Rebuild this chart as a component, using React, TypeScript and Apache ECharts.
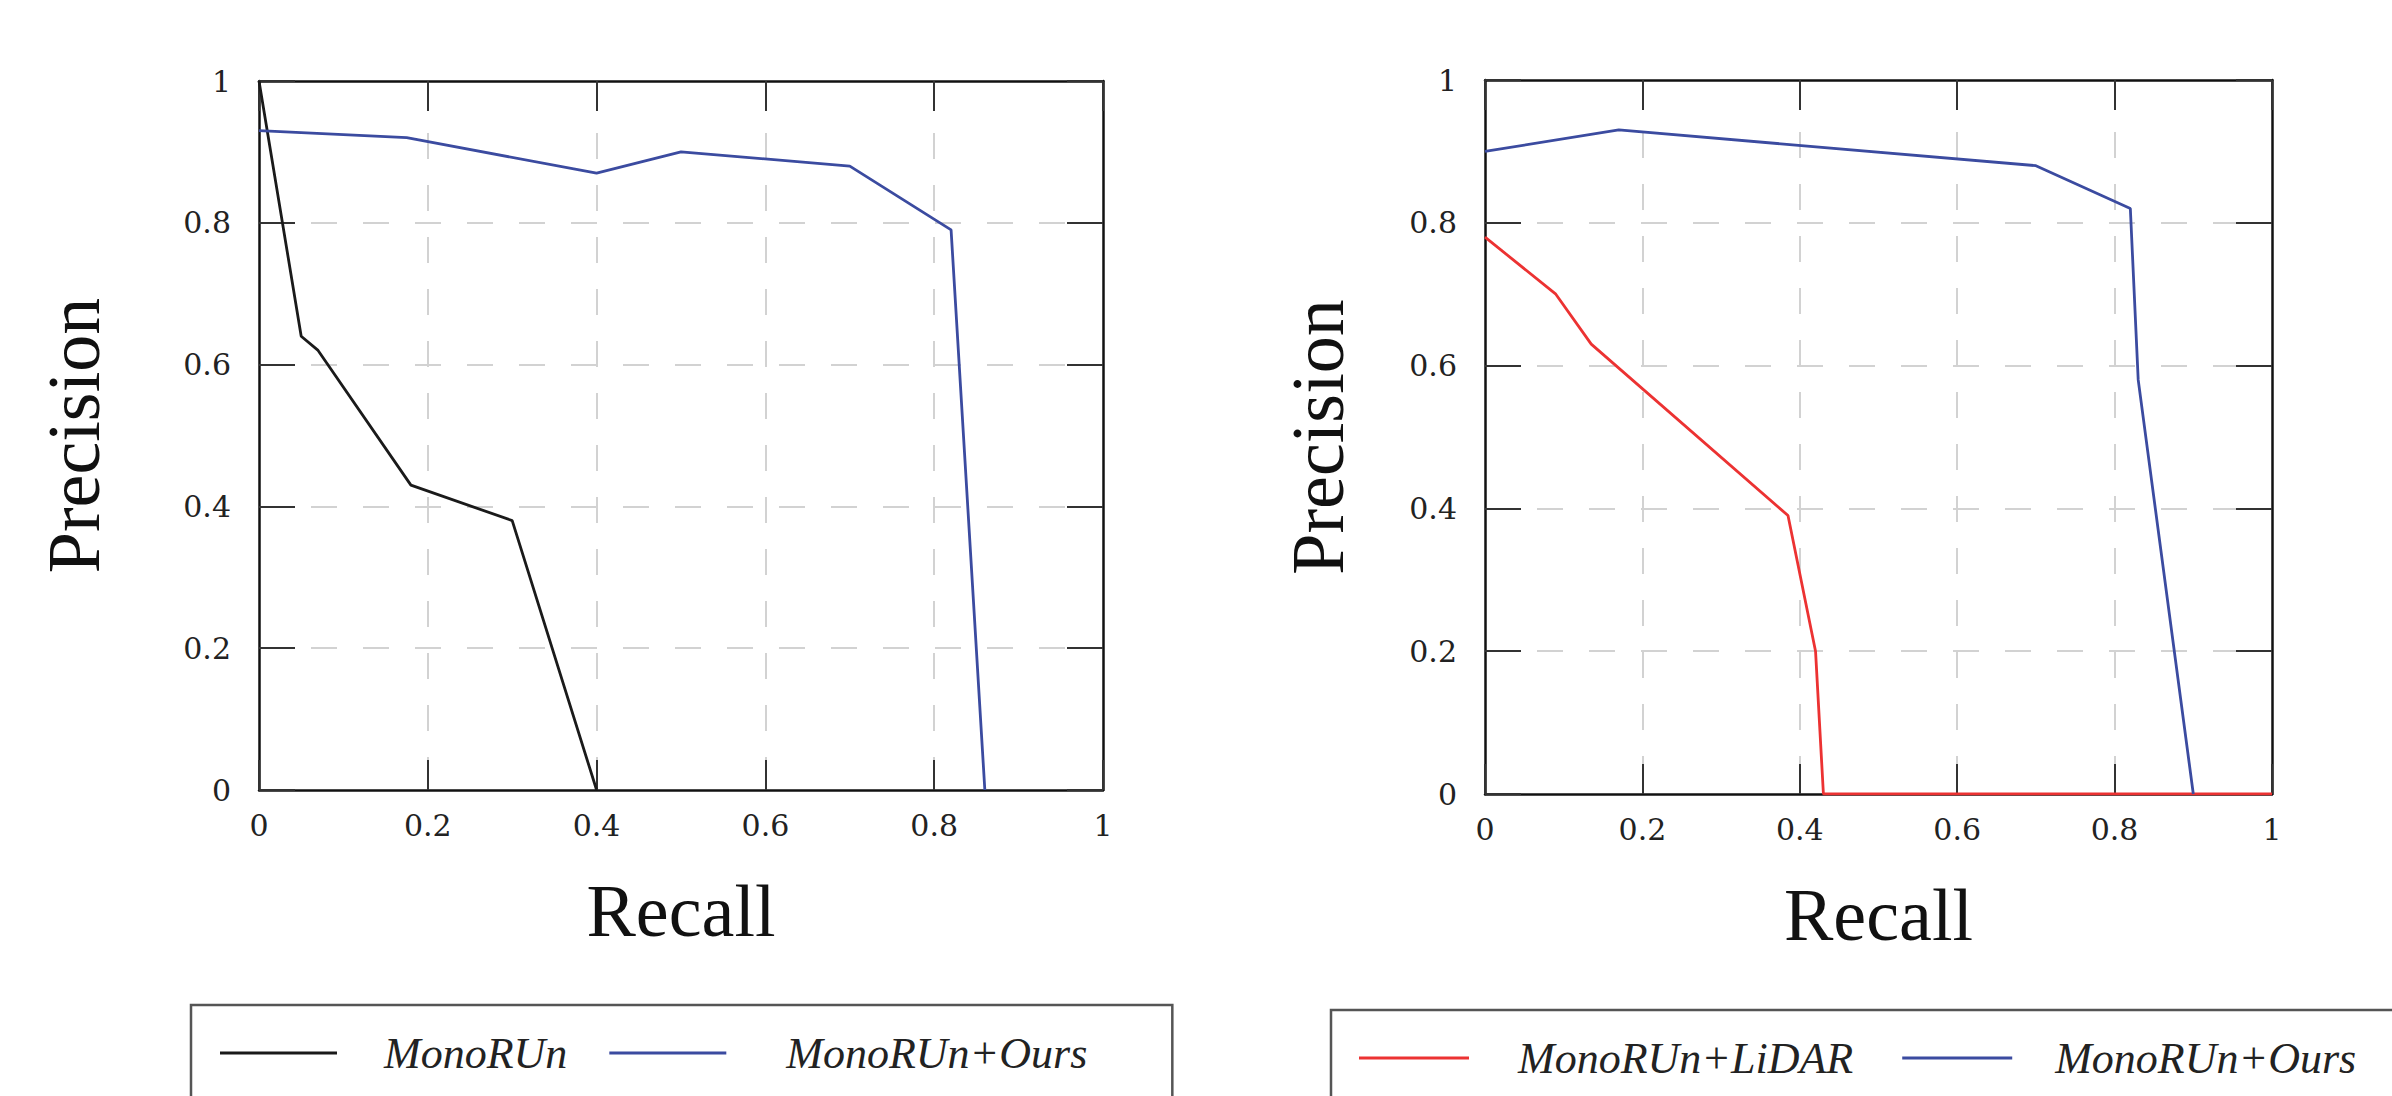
import React, { useEffect, useRef } from "react";
import * as echarts from "echarts";

// ---- data (Recall, Precision) ----
const leftMonoRUn: [number, number][] = [
  [0, 1.0], [0.05, 0.64], [0.07, 0.62], [0.18, 0.43], [0.3, 0.38], [0.4, 0],
];
const leftOurs: [number, number][] = [
  [0, 0.93], [0.175, 0.92], [0.4, 0.87], [0.5, 0.9], [0.7, 0.88], [0.82, 0.79], [0.86, 0],
];
const rightLidar: [number, number][] = [
  [0, 0.78], [0.09, 0.7], [0.135, 0.63], [0.385, 0.39], [0.42, 0.2], [0.43, 0], [1, 0],
];
const rightOurs: [number, number][] = [
  [0, 0.9], [0.17, 0.93], [0.7, 0.88], [0.82, 0.82], [0.83, 0.58], [0.9, 0],
];

const leftLegend = ["MonoRUn", "MonoRUn+Ours"];
const rightLegend = ["MonoRUn+LiDAR", "MonoRUn+Ours"];
const axisMin = 0;
const axisMax = 1;
const axisStep = 0.2;
const xTitle = "Recall";
const yTitle = "Precision";

const BLACK = "#1a1a1a";
const BLUE = "#3b4ba0";
const RED = "#ec3232";
const SERIF = "'Liberation Serif', 'DejaVu Serif', serif";
const TICKFONT = "'DejaVu Serif', 'Liberation Serif', serif";

function makeAxes(gridIndex: number, yNameGap: number) {
  const frameLine = { show: true, onZero: false, lineStyle: { color: "#111", width: 2.5 } };
  const tickStyle = { color: "#333", width: 2 };
  const split = {
    show: true,
    showMinLine: false,
    showMaxLine: false,
    lineStyle: { color: "#d2d2d2", width: 2, type: [26, 26] as any },
  };
  const x = [
    {
      type: "value", gridIndex, position: "bottom", min: axisMin, max: axisMax, interval: axisStep,
      name: xTitle, nameLocation: "middle", nameGap: 84,
      nameTextStyle: { fontFamily: SERIF, fontSize: 74, color: "#111" },
      axisLine: frameLine,
      axisTick: { show: true, inside: true, length: 30, lineStyle: tickStyle },
      axisLabel: { margin: 20, fontFamily: TICKFONT, fontSize: 30, color: "#222" },
      splitLine: split,
    },
    {
      type: "value", gridIndex, position: "top", min: axisMin, max: axisMax, interval: axisStep,
      axisLine: frameLine,
      axisTick: { show: true, inside: true, length: 30, lineStyle: tickStyle },
      axisLabel: { show: false },
      splitLine: { show: false },
    },
  ];
  const y = [
    {
      type: "value", gridIndex, position: "left", min: axisMin, max: axisMax, interval: axisStep,
      name: yTitle, nameLocation: "middle", nameGap: yNameGap, nameRotate: 90,
      nameTextStyle: { fontFamily: SERIF, fontSize: 74, color: "#111" },
      axisLine: frameLine,
      axisTick: { show: true, inside: true, length: 36, lineStyle: tickStyle },
      axisLabel: { margin: 28, fontFamily: TICKFONT, fontSize: 30, color: "#222" },
      splitLine: split,
    },
    {
      type: "value", gridIndex, position: "right", min: axisMin, max: axisMax, interval: axisStep,
      axisLine: frameLine,
      axisTick: { show: true, inside: true, length: 36, lineStyle: tickStyle },
      axisLabel: { show: false },
      splitLine: { show: false },
    },
  ];
  return { x, y };
}

function lineSeries(name: string, data: [number, number][], color: string, axisIdx: number) {
  return {
    type: "line",
    name,
    data,
    xAxisIndex: axisIdx,
    yAxisIndex: axisIdx,
    symbol: "none",
    showSymbol: false,
    lineStyle: { color, width: 2.8 },
    itemStyle: { color },
    z: 5,
  };
}

const legendFont = { fontFamily: SERIF, fontStyle: "italic", fontSize: 44, color: "#222" };

function legendOpt(
  names: string[],
  leftPads: number[],
  left: number,
  top: number,
  itemWidth: number,
  itemGap: number,
  padding: number[],
) {
  return {
    left, top, width: 1150, orient: "horizontal",
    icon: "rect",
    itemWidth, itemHeight: 3, itemGap,
    padding,
    borderColor: "#555", borderWidth: 2.5,
    selectedMode: false,
    textStyle: legendFont,
    data: names.map((n, i) => ({ name: n, textStyle: { ...legendFont, padding: [0, 0, 0, leftPads[i]] } })),
  };
}

export default function App() {
  const ref = useRef<HTMLDivElement>(null);
  useEffect(() => {
    if (!ref.current) return;
    const chart = echarts.init(ref.current, undefined, { renderer: "svg" });
    const a = makeAxes(0, 148);
    const b = makeAxes(1, 130);
    chart.setOption({
      animation: false,
      backgroundColor: "#ffffff",
      grid: [
        { left: 259, top: 81, width: 844, height: 709, containLabel: false },
        { left: 1485, top: 80, width: 787, height: 714, containLabel: false },
      ],
      xAxis: [a.x[0], a.x[1], b.x[0], b.x[1]],
      yAxis: [a.y[0], a.y[1], b.y[0], b.y[1]],
      legend: [
        legendOpt(leftLegend, [42, 55], 191, 1005, 117, 42, [26, 85, 60, 29]),
        legendOpt(rightLegend, [44, 38], 1331, 1010, 110, 49, [26, 43, 60, 28]),
      ],
      series: [
        lineSeries(leftLegend[0], leftMonoRUn, BLACK, 0),
        lineSeries(leftLegend[1], leftOurs, BLUE, 0),
        lineSeries(rightLegend[0], rightLidar, RED, 2),
        lineSeries(rightLegend[1], rightOurs, BLUE, 2),
      ],
    });
    return () => chart.dispose();
  }, []);
  return (
    <div
      ref={ref}
      style={{ position: "fixed", left: 0, top: 0, width: 2392, height: 1096, background: "#fff" }}
    />
  );
}
